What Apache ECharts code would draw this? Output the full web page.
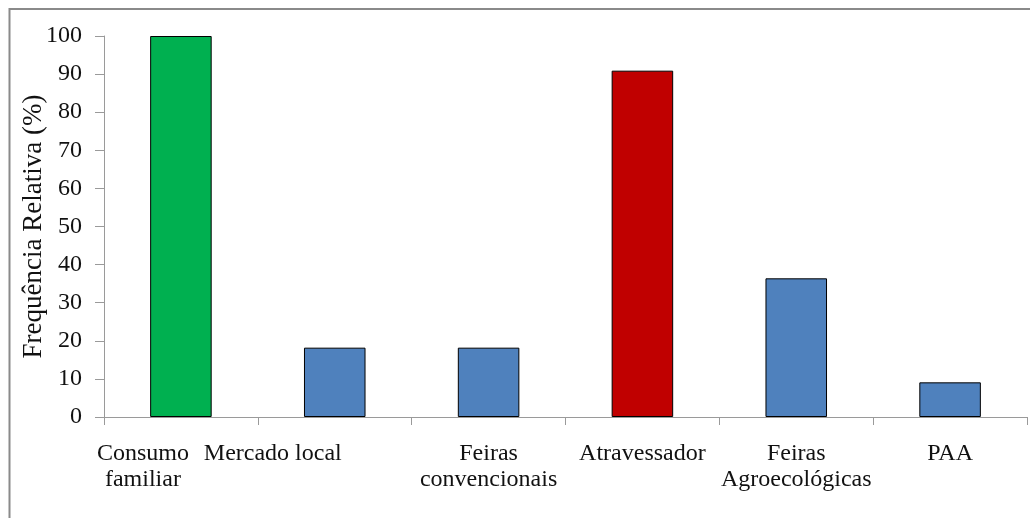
<!DOCTYPE html>
<html>
<head>
<meta charset="utf-8">
<script src="https://cdn.jsdelivr.net/npm/echarts@6/dist/echarts.min.js"></script>
<style>
  html, body { margin: 0; padding: 0; background: #ffffff; }
  #chart { width: 1030px; height: 518px; }
</style>
</head>
<body>
<div id="chart"></div>
<script>
// Destinos da produção: frequência relativa (%) de citações
const categories = [
  'Consumo\nfamiliar',
  'Mercado local',
  'Feiras\nconvencionais',
  'Atravessador',
  'Feiras\nAgroecológicas',
  'PAA'
];
const frequencia = [100, 18.2, 18.2, 90.9, 36.4, 9.1];
const yTicks = { min: 0, max: 100, interval: 10 };

// Bar fills: own consumption green, middlemen red, the rest blue
const barColors = ['#00B050', '#4F81BD', '#4F81BD', '#C00000', '#4F81BD', '#4F81BD'];
// Horizontal nudge (px, to the left) for labels that sit off-centre
const labelNudge = [38, 62, 0, 0, 0, 0];

const serif = '"Liberation Serif", "Times New Roman", serif';
const axisGray = '#9a9a9a';

const rich = {};
labelNudge.forEach((n, i) => {
  rich['l' + i] = {
    fontFamily: serif, fontSize: 24, color: '#111', lineHeight: 26,
    padding: [0, 2 * n, 0, 0]
  };
});

const chart = echarts.init(document.getElementById('chart'), null, { renderer: 'canvas' });
chart.setOption({
  animation: false,
  backgroundColor: '#ffffff',
  graphic: [{
    type: 'rect',
    shape: { x: 9.5, y: 9, width: 1100, height: 600 },
    style: { fill: 'none', stroke: '#8a8a8a', lineWidth: 2 },
    silent: true
  }],
  grid: { left: 104, right: 3, top: 36, bottom: 101, containLabel: false },
  xAxis: {
    type: 'category',
    data: categories,
    axisLine: { show: true, lineStyle: { color: axisGray, width: 1 } },
    axisTick: { show: true, length: 8, lineStyle: { color: axisGray } },
    axisLabel: {
      interval: 0,
      margin: 24,
      formatter: (v, i) => v.split('\n').map(s => '{l' + i + '|' + s + '}').join('\n'),
      rich: rich
    }
  },
  yAxis: {
    type: 'value',
    min: yTicks.min, max: yTicks.max, interval: yTicks.interval,
    name: 'Frequência Relativa (%)',
    nameLocation: 'middle',
    nameRotate: 90,
    nameGap: 57,
    nameMoveOverlap: false,
    nameTextStyle: { fontFamily: serif, fontSize: 27, color: '#111' },
    axisLine: { show: true, lineStyle: { color: axisGray, width: 1 } },
    axisTick: { show: true, length: 9, lineStyle: { color: axisGray } },
    axisLabel: { margin: 22, fontFamily: serif, fontSize: 24, color: '#111' },
    splitLine: { show: false }
  },
  series: [{
    type: 'bar',
    barWidth: '40%',
    data: frequencia.map((v, i) => ({
      value: v,
      itemStyle: { color: barColors[i] }
    })),
    itemStyle: { borderColor: '#000', borderWidth: 1 }
  }]
});
</script>
</body>
</html>
